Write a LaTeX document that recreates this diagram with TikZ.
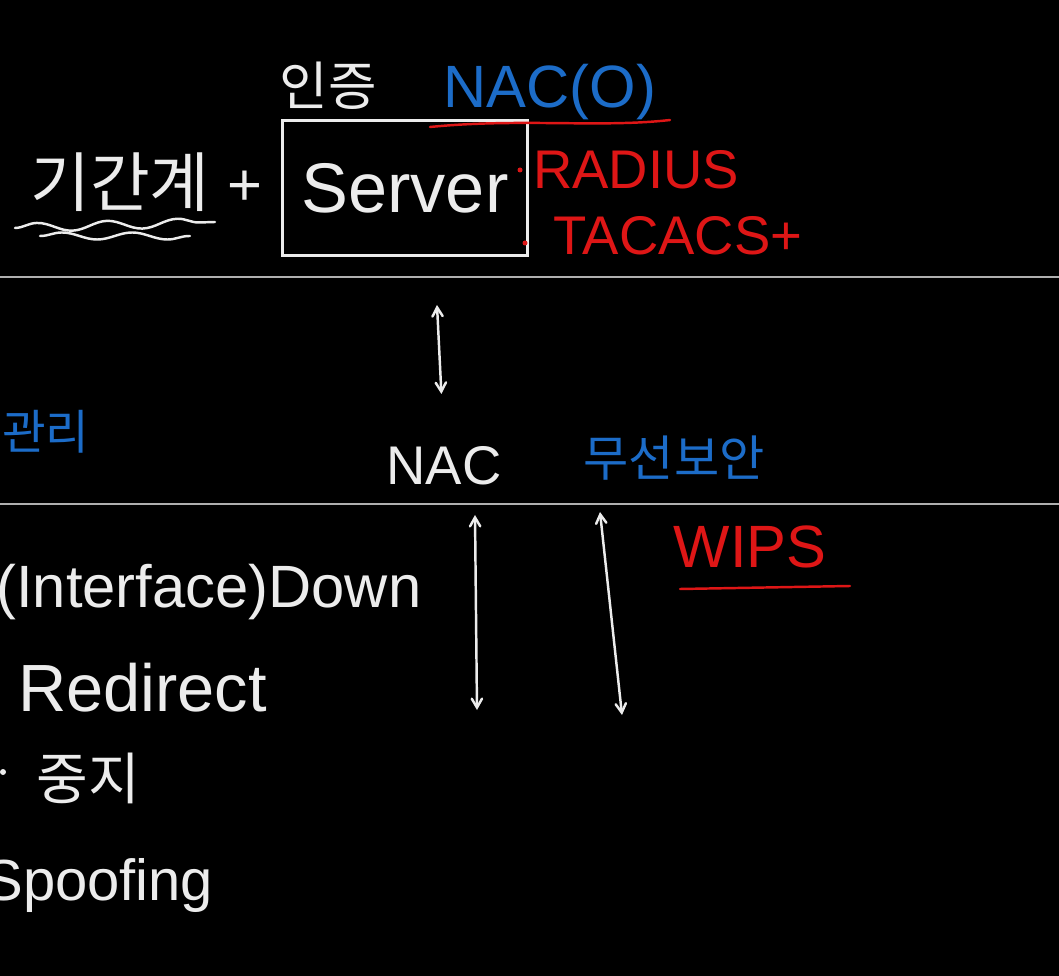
\documentclass[tikz,border=0pt]{standalone}
\usepackage{fontspec}
\setmainfont{Liberation Sans}
\newfontfamily\kr{Noto Sans CJK KR}
\usepackage{tikz}
\usetikzlibrary{arrows,positioning,decorations.pathmorphing}
\definecolor{board}{RGB}{0,0,0}
\definecolor{chalk}{RGB}{236,236,236}
\definecolor{rule}{RGB}{175,175,175}
\definecolor{penblue}{RGB}{28,108,200}
\definecolor{penred}{RGB}{222,22,22}

\begin{document}
\begin{tikzpicture}[x=0.02cm,y=-0.02cm,
    pen/.style={line width=1.4pt,line cap=round},
    word/.style={inner sep=0pt},
    ink/.style={word,text=chalk},
    blueink/.style={word,text=penblue},
    redink/.style={word,text=penred}]
\fill[board] (0,0) rectangle (1059,976);
\useasboundingbox (0,0) rectangle (1059,976);

% separators
\draw[rule,line width=1.6pt] (0,277) -- (1059,277);
\draw[rule,line width=1.6pt] (0,504) -- (1059,504);

% top part
\node[ink,font=\kr\fontsize{30}{32}\selectfont] (auth) at (328,86) {인증};
\node[blueink,font=\fontsize{34}{36}\selectfont] (nacok) at (550,92) {NAC(O)};
\node[ink,font=\kr\fontsize{37}{39}\selectfont] (core) at (120,182) {기간계};
\node[ink,font=\fontsize{34}{36}\selectfont] (plus) at (245,188) {+};
\node[draw=chalk,pen,text=chalk,minimum width=4.9cm,minimum height=2.7cm,
      font=\fontsize{40}{42}\selectfont] (server) at (405,188) {Server};
\node[redink,font=\fontsize{31}{33}\selectfont] (radius) at (636,170) {RADIUS};
\node[redink,font=\fontsize{31}{33}\selectfont] (tacacs) at (678,236) {TACACS+};
\fill[penred] (520,170) circle (2.5);
\fill[penred] (525,243) circle (2.5);
\draw[penred,pen] (430,127) .. controls (520,118) and (600,128) .. (670,120);
\draw[chalk,pen,decorate,decoration={snake,amplitude=2.5pt,segment length=40pt}]
  (15,228) -- (215,222);
\draw[chalk,pen,decorate,decoration={snake,amplitude=2pt,segment length=40pt}]
  (40,236) -- (190,236);

% middle part
\node[blueink,font=\kr\fontsize{27}{29}\selectfont,anchor=west] (mgmt) at (2,432) {관리};
\node[ink,font=\fontsize{31}{33}\selectfont] (nac) at (444,466) {NAC};
\node[blueink,font=\kr\fontsize{28}{30}\selectfont] (wless) at (674,458) {무선보안};
\coordinate (up) at (437,305);
\draw[chalk,pen,<->,>=angle 60,shorten >=1.05cm] (up) -- (nac.north);

% bottom part
\node[redink,font=\fontsize{34}{36}\selectfont] (wips) at (750,547) {WIPS};
\draw[penred,pen] (680,589) -- (850,586);
\node[ink,font=\fontsize{34}{36}\selectfont,anchor=west] (down) at (-4,592) {(Interface)Down};
\node[ink,font=\fontsize{38}{40}\selectfont,anchor=west] (redir) at (18,688) {Redirect};
\fill[chalk] (3,772) circle (3);
\node[ink,font=\kr\fontsize{32}{34}\selectfont] (stop) at (88,778) {중지};
\node[ink,font=\fontsize{33}{35}\selectfont,anchor=west] (spoof) at (-16,886) {Spoofing};
\coordinate (a1) at (475,515);
\coordinate (a2) at (477,710);
\coordinate (b1) at (600,512);
\coordinate (b2) at (622,715);
\draw[chalk,pen,<->,>=angle 60] (a1) -- (a2);
\draw[chalk,pen,<->,>=angle 60] (b1) -- (b2);
\end{tikzpicture}
\end{document}
